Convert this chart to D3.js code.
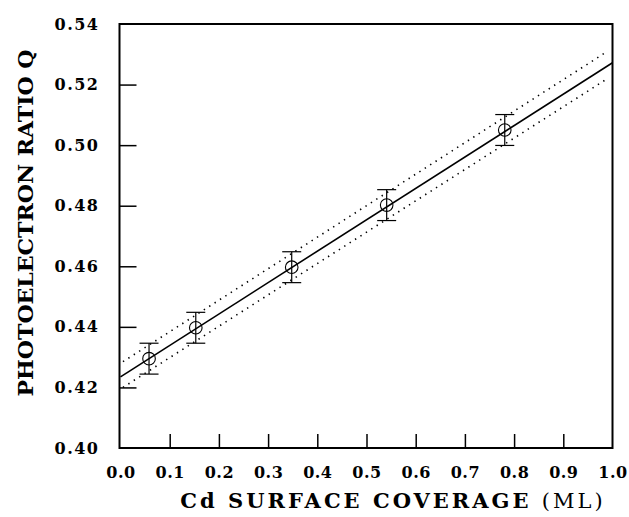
<!DOCTYPE html>
<html><head><meta charset="utf-8">
<script src="https://cdn.jsdelivr.net/npm/d3@7"></script>
<style>
body{margin:0;background:#fff;}
text{font-family:"DejaVu Serif",serif;fill:#000;}
</style></head>
<body><svg id="c" width="629" height="517"></svg>
<script>
// data
const coverage = [0.058, 0.153, 0.348, 0.541, 0.781];
const ratioQ   = [0.4295, 0.4397, 0.4597, 0.4802, 0.5050];
const errQ     = [0.0051, 0.0051, 0.0051, 0.0051, 0.0051];
const fitX     = [0.0, 1.0];
const fitQ     = [0.4235, 0.5272];
const bandX    = [0.005, 0.99];
const upperQ   = [0.4285, 0.5310];
const lowerQ   = [0.4200, 0.5220];
const xTicks   = [0.0,0.1,0.2,0.3,0.4,0.5,0.6,0.7,0.8,0.9,1.0];
const yTicks   = [0.40,0.42,0.44,0.46,0.48,0.50,0.52,0.54];

const svg = d3.select("#c");
const x = d3.scaleLinear().domain([0,1]).range([120.5,612.5]);
const y = d3.scaleLinear().domain([0.40,0.54]).range([448,24]);

// frame
svg.append("rect").attr("x",x(0)-1).attr("y",y(0.54)).attr("width",x(1)-x(0)+1).attr("height",y(0.40)-y(0.54))
  .attr("fill","none").attr("stroke","#000").attr("stroke-width",2);

// x axis ticks
const xa = svg.append("g").attr("transform",`translate(0,${y(0.40)})`)
  .call(d3.axisBottom(x).tickValues(xTicks).tickSizeInner(-14).tickSizeOuter(0).tickPadding(19).tickFormat(d3.format(".1f")));
xa.select(".domain").remove();
xa.selectAll("line").attr("stroke","#000").attr("stroke-width",1.5)
  .filter(d=>d===0||d===1).remove();
xa.selectAll("text").attr("font-size",16).attr("font-weight","bold").attr("font-family","DejaVu Serif").attr("letter-spacing","0.5px");

// y axis
const ya = svg.append("g").attr("transform",`translate(${x(0)-1},0)`)
  .call(d3.axisLeft(y).tickValues(yTicks).tickSizeInner(-17).tickSizeOuter(0).tickPadding(20).tickFormat(d3.format(".2f")));
ya.select(".domain").remove();
ya.selectAll("line").attr("stroke","#000").attr("stroke-width",1.5)
  .filter(d=>d===0.40||d===0.54).remove();
ya.selectAll("text").attr("font-size",16).attr("font-weight","bold").attr("font-family","DejaVu Serif").attr("letter-spacing","1.5px");

// fit line
const line = d3.line().x(d=>x(d[0])).y(d=>y(d[1]));
svg.append("path").datum(fitX.map((v,i)=>[v,fitQ[i]])).attr("d",line)
  .attr("fill","none").attr("stroke","#000").attr("stroke-width",1.6);
[upperQ,lowerQ].forEach(arr=>{
  svg.append("path").datum(bandX.map((v,i)=>[v,arr[i]])).attr("d",line)
    .attr("fill","none").attr("stroke","#000").attr("stroke-width",1.6)
    .attr("stroke-dasharray","1.4,5").attr("stroke-linecap","butt");
});

// error bars & points
const pts = svg.append("g");
coverage.forEach((cx,i)=>{
  const px=x(cx), py=y(ratioQ[i]);
  const t=y(ratioQ[i]+errQ[i]), b=y(ratioQ[i]-errQ[i]);
  pts.append("line").attr("x1",px).attr("x2",px).attr("y1",t).attr("y2",b).attr("stroke","#000").attr("stroke-width",1.2);
  [t,b].forEach(v=>pts.append("line").attr("x1",px-9.5).attr("x2",px+9.5).attr("y1",v).attr("y2",v).attr("stroke","#000").attr("stroke-width",1.2));
  pts.append("circle").attr("cx",px).attr("cy",py).attr("r",6.3).attr("fill","none").attr("stroke","#000").attr("stroke-width",1.1);
});

// axis titles
svg.append("text").attr("transform","translate(33,223) rotate(-90)").attr("text-anchor","middle")
  .attr("font-size",20).attr("font-weight","bold").attr("textLength",347).attr("lengthAdjust","spacingAndGlyphs")
  .text("PHOTOELECTRON RATIO Q");
const xt = svg.append("text").attr("x",393).attr("y",508).attr("text-anchor","middle").attr("font-size",21).attr("letter-spacing","3px");
xt.append("tspan").attr("font-weight","bold").text("Cd SURFACE COVERAGE ");
xt.append("tspan").attr("font-weight","normal").text("(ML)");
</script></body></html>
